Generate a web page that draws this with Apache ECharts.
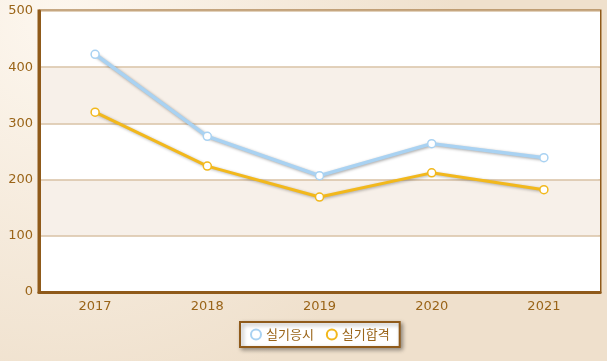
<!DOCTYPE html>
<html><head><meta charset="utf-8">
<script src="https://cdn.jsdelivr.net/npm/echarts@6/dist/echarts.min.js"></script>
<style>html,body{margin:0;padding:0;}#c{width:607px;height:361px;}</style>
</head><body><div id="c"></div>
<script>
const categories = ['2017','2018','2019','2020','2021'];
const seriesNames = ['실기응시','실기합격'];
const applied = [423, 277, 207, 264, 239];
const passed = [320, 224, 169, 212, 182];
const yTicks = [0,100,200,300,400,500];

const chart = echarts.init(document.getElementById('c'));
const brown = '#8f5a1a';
const labelColor = '#9a6418';
const blue = '#a9d2f2', gold = '#f2b81c';
const font = '"DejaVu Sans", "Noto Sans CJK KR", sans-serif';
chart.setOption({
  backgroundColor: new echarts.graphic.RadialGradient(0.1, 0.05, 1.1, [
    {offset:0, color:'#fdf7ef'}, {offset:1, color:'#efe0cc'}
  ]),
  animation: false,
  grid: {left:39, right:7, top:11, bottom:69, show:true, borderColor:brown, borderWidth:3, backgroundColor:'#ffffff'},
  legend: {
    bottom: 14, left: 240,
    data: [
      {name: seriesNames[0], icon: 'circle', itemStyle: {color: '#ffffff', borderColor: blue, borderWidth: 2}},
      {name: seriesNames[1], icon: 'circle', itemStyle: {color: '#ffffff', borderColor: gold, borderWidth: 2}}
    ],
    itemWidth: 10, itemHeight: 10, itemGap: 12,
    backgroundColor: '#ffffff', borderColor: brown, borderWidth: 2, borderRadius: 0,
    padding: [6, 10, 6, 10],
    shadowBlur: 4, shadowColor: 'rgba(0,0,0,0.35)', shadowOffsetX: 2, shadowOffsetY: 2,
    textStyle: {color: labelColor, fontSize: 13, fontFamily: '"Noto Sans CJK KR", sans-serif'}
  },
  xAxis: {
    type: 'category', data: categories, boundaryGap: true,
    axisLine: {lineStyle: {color: brown, width: 3}},
    axisTick: {show: false},
    axisLabel: {color: labelColor, fontSize: 13, fontFamily: font, margin: 8}
  },
  yAxis: {
    type: 'value', min: yTicks[0], max: yTicks[yTicks.length-1], interval: 100,
    axisLine: {show: true, lineStyle: {color: brown, width: 3}},
    axisTick: {show: false},
    axisLabel: {color: labelColor, fontSize: 13, fontFamily: font, margin: 6},
    splitLine: {lineStyle: {color: '#d8c2a4', width: 1.5}},
    splitArea: {show: true, areaStyle: {color: ['rgba(255,255,255,1)', '#f7f0e9']}}
  },
  series: [
    {name: seriesNames[0], type: 'line', data: applied, symbol: 'circle', symbolSize: 8,
     itemStyle: {color: '#ffffff', borderColor: blue, borderWidth: 1.5},
     lineStyle: {color: blue, width: 3.5, shadowBlur: 3, shadowColor: 'rgba(0,0,0,0.35)', shadowOffsetX: 1, shadowOffsetY: 1}},
    {name: seriesNames[1], type: 'line', data: passed, symbol: 'circle', symbolSize: 8,
     itemStyle: {color: '#ffffff', borderColor: gold, borderWidth: 1.5},
     lineStyle: {color: gold, width: 3, shadowBlur: 3, shadowColor: 'rgba(0,0,0,0.3)', shadowOffsetX: 1, shadowOffsetY: 1}}
  ]
});
</script></body></html>
